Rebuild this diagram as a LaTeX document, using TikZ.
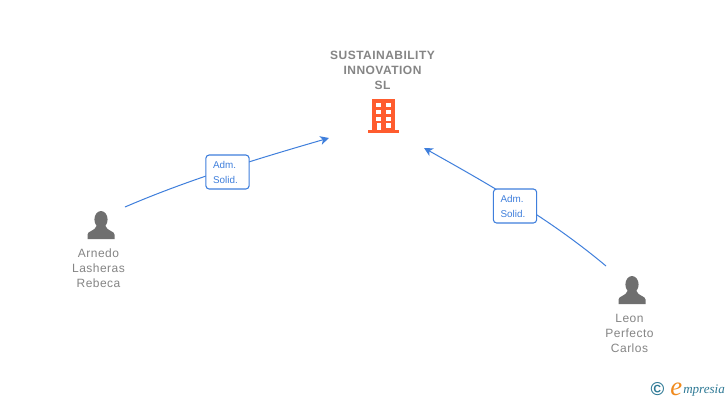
\documentclass[tikz,border=0pt]{standalone}
\usepackage{fontspec}
\setmainfont{Liberation Sans}
\newfontfamily\spaced[LetterSpace=4]{Liberation Sans}
\newfontfamily\logofont{Liberation Serif}
\usetikzlibrary{arrows.meta}
\definecolor{linkblue}{HTML}{3F7FDC}
\definecolor{txtgray}{HTML}{858585}
\definecolor{icongray}{HTML}{6F6F6F}
\definecolor{orangebld}{HTML}{FF5C2E}
\definecolor{logoteal}{HTML}{2F7A96}
\definecolor{logoorange}{HTML}{F08A1D}
\tikzset{
  x=0.75pt,y=-0.75pt,
  person/.style={font=\spaced\fontsize{9}{11.25}\selectfont,text=txtgray,align=center,inner sep=0pt,text width=80pt},
  company/.style={font=\spaced\bfseries\fontsize{9}{11.25}\selectfont,text=txtgray,align=center,inner sep=0pt,text width=110pt},
  rolebox/.style={draw=linkblue,fill=white,rounded corners=2.5pt,line width=0.8pt,minimum width=32.5pt,minimum height=25.5pt,inner sep=0pt,align=left,text=linkblue,font=\fontsize{7.4}{11.25}\selectfont},
  link/.style={draw=linkblue,line width=0.75pt},
  tip/.style={-{Stealth[length=6.5pt,width=6.5pt,inset=1.8pt]}},
}
\newcommand{\persongly}[2]{%
  \fill[icongray] (#1,#2-1.5) ellipse [x radius=6.6,y radius=8.5];
  \fill[icongray] (#1-13.5,#2+18) -- (#1-13.5,#2+13.5) .. controls (#1-13.5,#2+10) and (#1-6,#2+10) .. (#1-4.5,#2+5)
     -- (#1+4.5,#2+5) .. controls (#1+6,#2+10) and (#1+13.5,#2+10) .. (#1+13.5,#2+13.5) -- (#1+13.5,#2+18) -- cycle;
}
\begin{document}
\begin{tikzpicture}
\useasboundingbox (0,0) rectangle (728,400);
\fill[white] (0,0) rectangle (728,400);
% company
\node[company] (co) at (382.5,70) {SUSTAINABILITY\\[0pt]INNOVATION\\SL};
\fill[orangebld] (372,99) rectangle (395,130);
\fill[orangebld] (367.5,130) rectangle (399,133);
\foreach \yy in {103,110,116.5}{
  \fill[white] (376,\yy) rectangle (381,\yy+4);
  \fill[white] (386,\yy) rectangle (391,\yy+4);
}
\fill[white] (386,123) rectangle (391,127.5);
\fill[white] (376.5,123) rectangle (381,130);
\coordinate (coL) at (329,138);
\coordinate (coR) at (424,148);
% persons
\persongly{101}{221}
\node[person] (p1) at (98.5,268) {Arnedo\\Lasheras\\Rebeca};
\coordinate (p1out) at (125,207);
\persongly{632}{286}
\node[person] (p2) at (629.5,333) {Leon\\Perfecto\\Carlos};
\coordinate (p2out) at (606,266);
% connectors
\path[link,tip] (p1out) .. controls (190,179) and (260,158) .. (coL);
\path[link,tip] (p2out) .. controls (550,219) and (490,185) .. (coR);
% role labels
\node[rolebox] (r1) at (227.5,172) {\hspace*{-3pt}Adm.\\[0pt]\hspace*{-3pt}Solid.};
\node[rolebox] (r2) at (515,206) {\hspace*{-3pt}Adm.\\[0pt]\hspace*{-3pt}Solid.};
% logo
\node[inner sep=0pt,text=logoteal,font=\bfseries\fontsize{14}{14}\selectfont] (cp) at (657.5,389) {©};
\node[inner sep=0pt,anchor=base west,text=logoorange,font=\logofont\itshape\fontsize{20}{20}\selectfont] (lge) at (670,395) {e};
\node[inner sep=0pt,anchor=base west,text=logoteal,font=\logofont\itshape\fontsize{9.8}{9.8}\selectfont] (lgm) at (683,393) {mpresia};
\end{tikzpicture}
\end{document}
